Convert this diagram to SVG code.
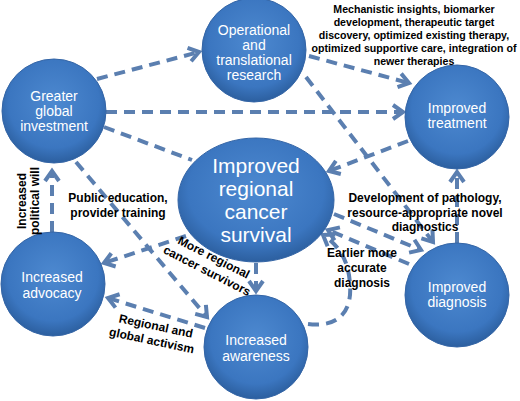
<svg xmlns="http://www.w3.org/2000/svg" width="520" height="401" viewBox="0 0 520 401">
<style>
.c{fill:none;stroke:#5b7fb0;stroke-width:4;stroke-dasharray:11 7;marker-end:url(#ah)}
.n{fill:url(#g);stroke:#3465a6;stroke-width:1}
.t{font-family:"Liberation Sans",Arial,sans-serif;fill:#fff;text-anchor:middle;font-size:14px}
.b{font-family:"Liberation Sans",Arial,sans-serif;fill:#000;text-anchor:middle;font-weight:bold;font-size:12px}
</style>
<defs>
<radialGradient id="g" cx="50%" cy="42%" r="58%">
<stop offset="0" stop-color="#4d89d0"/>
<stop offset="0.75" stop-color="#3b76c0"/>
<stop offset="1" stop-color="#2c5f9f"/>
</radialGradient>
<marker id="ah" markerUnits="userSpaceOnUse" markerWidth="20" markerHeight="20" viewBox="-14 -10 20 20" refX="0" refY="0" orient="auto">
<path d="M-10,-7 L0,0 L-10,7" fill="none" stroke="#5b7fb0" stroke-width="4"/>
</marker>
</defs>
<g id="connectors">
<path class="c" d="M97,79 L199,52"/>
<path class="c" d="M106,112 L403,112"/>
<path class="c" d="M104,127 L192,160" style="marker-end:none"/>
<path class="c" d="M76,162 L207,317"/>
<path class="c" d="M309,56 L409,83"/>
<path class="c" d="M306,77 L433,242"/>
<path class="c" d="M408,141 L329,171"/>
<path class="c" d="M457,243 L457,172"/>
<path class="c" d="M334,214 L421,250"/>
<path class="c" d="M409,264 L328,230"/>
<path class="c" d="M308,324 C340,328 352,310 350,285 C349,262 340,246 323,235"/>
<path class="c" d="M256,263 L256,291"/>
<path class="c" d="M186,236 L104,263"/>
<path class="c" d="M205,328 L108,298"/>
<path class="c" d="M52,232 L52,171"/>
</g>
<g id="node-research">
<circle class="n" cx="254" cy="50" r="52"/>
<text class="t"><tspan x="254" y="35">Operational</tspan><tspan x="254" y="50">and</tspan><tspan x="254" y="65">translational</tspan><tspan x="254" y="80">research</tspan></text>
</g>
<g id="node-investment">
<circle class="n" cx="54" cy="111" r="52"/>
<text class="t"><tspan x="54" y="101">Greater</tspan><tspan x="54" y="116">global</tspan><tspan x="54" y="131">investment</tspan></text>
</g>
<g id="node-treatment">
<circle class="n" cx="457" cy="117" r="52"/>
<text class="t"><tspan x="457" y="113">Improved</tspan><tspan x="457" y="128">treatment</tspan></text>
</g>
<g id="node-survival">
<ellipse class="n" cx="256" cy="200" rx="78" ry="62"/>
<text class="t" style="font-size:21px"><tspan x="256" y="173">Improved</tspan><tspan x="256" y="196">regional</tspan><tspan x="256" y="219">cancer</tspan><tspan x="256" y="242">survival</tspan></text>
</g>
<g id="node-advocacy">
<circle class="n" cx="53" cy="284" r="52"/>
<text class="t"><tspan x="52" y="282">Increased</tspan><tspan x="52" y="298">advocacy</tspan></text>
</g>
<g id="node-awareness">
<circle class="n" cx="256" cy="347" r="52"/>
<text class="t"><tspan x="256" y="345">Increased</tspan><tspan x="256" y="361">awareness</tspan></text>
</g>
<g id="node-diagnosis">
<circle class="n" cx="457" cy="295" r="52"/>
<text class="t"><tspan x="457" y="292">Improved</tspan><tspan x="457" y="307">diagnosis</tspan></text>
</g>
<g id="labels">
<text class="b" style="font-size:10.6px"><tspan x="414" y="13">Mechanistic insights, biomarker</tspan><tspan x="414" y="26">development, therapeutic target</tspan><tspan x="414" y="39">discovery, optimized existing therapy,</tspan><tspan x="414" y="52">optimized supportive care, integration of</tspan><tspan x="414" y="65">newer therapies</tspan></text>
<text class="b"><tspan x="118" y="202">Public education,</tspan><tspan x="118" y="217">provider training</tspan></text>
<text class="b" transform="translate(26,201) rotate(-90)">Increased</text>
<text class="b" transform="translate(39,201) rotate(-90)">political will</text>
<text class="b" transform="translate(212,261) rotate(27)"><tspan x="0" y="0">More regional</tspan><tspan x="0" y="15">cancer survivors</tspan></text>
<text class="b" transform="translate(155,330) rotate(12)"><tspan x="0" y="0">Regional and</tspan><tspan x="-1" y="15">global activism</tspan></text>
<text class="b"><tspan x="425" y="202">Development of pathology,</tspan><tspan x="425" y="216.5">resource-appropriate novel</tspan><tspan x="425" y="231">diagnostics</tspan></text>
<text class="b"><tspan x="362" y="257">Earlier more</tspan><tspan x="362" y="272">accurate</tspan><tspan x="362" y="287">diagnosis</tspan></text>
</g>
</svg>
